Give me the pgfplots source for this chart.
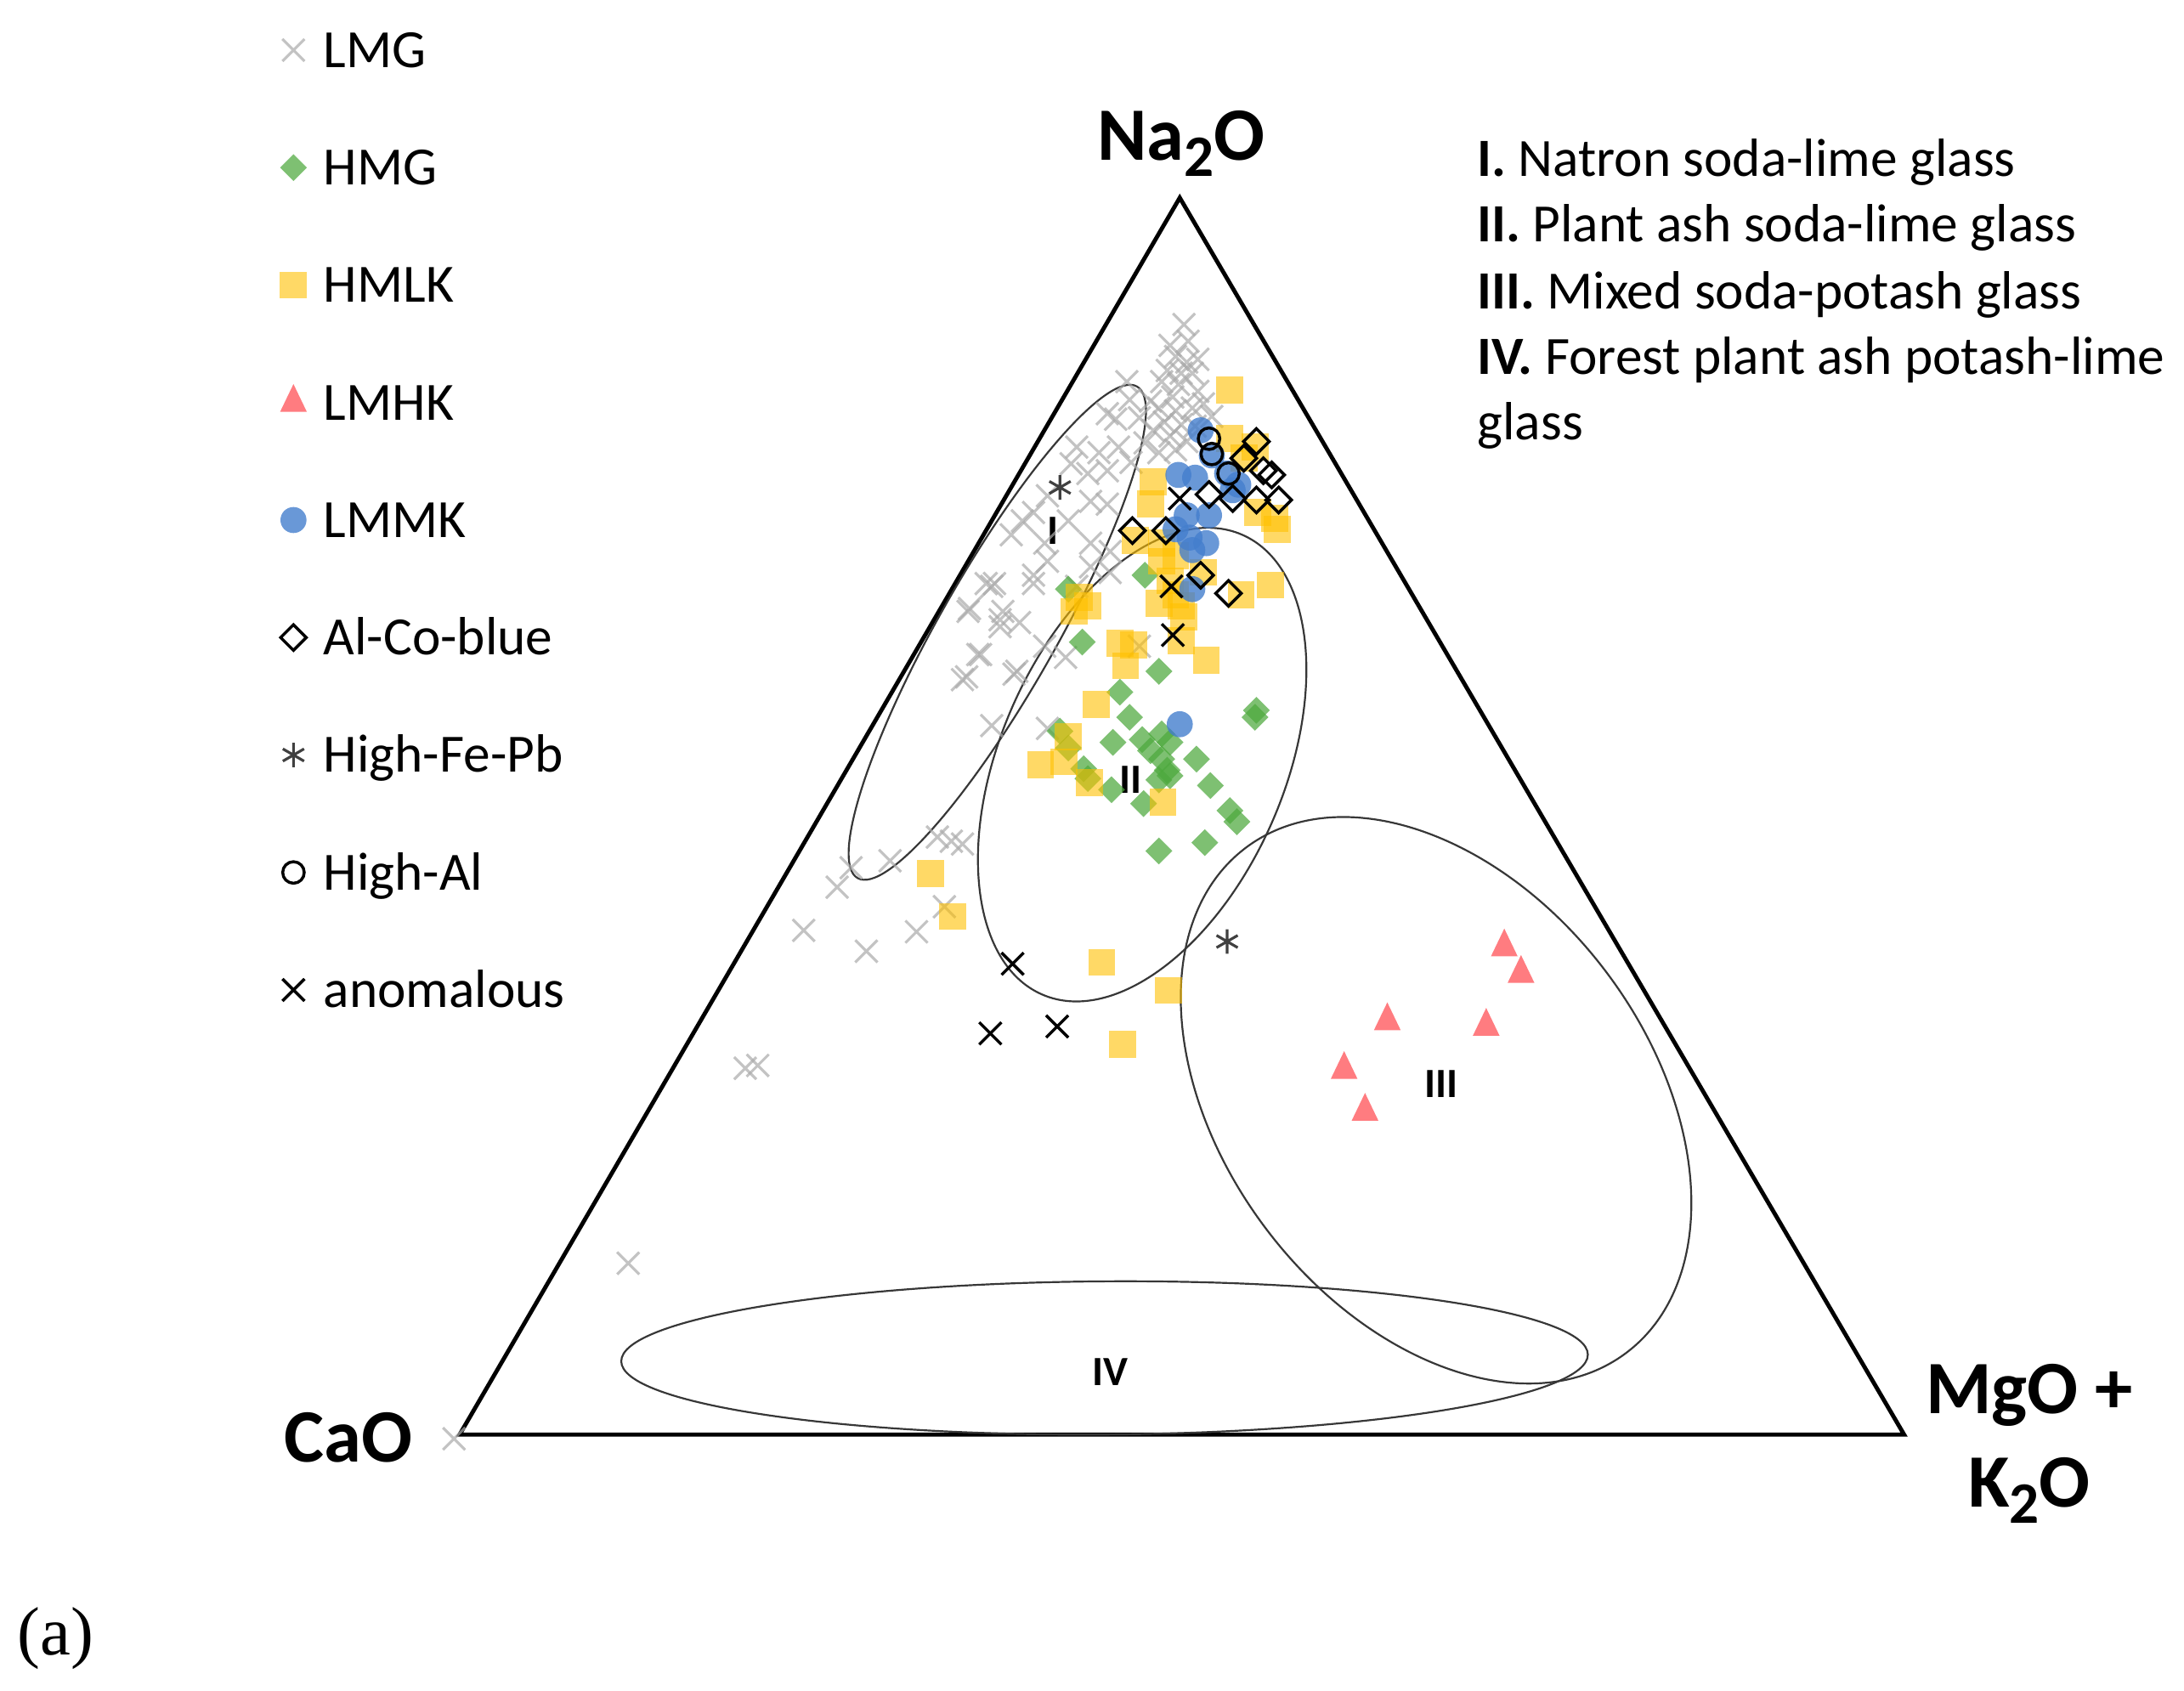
\documentclass[border=0pt]{standalone}
\usepackage{fontspec}
\setmainfont{Carlito}
\newfontfamily\seriffont{Liberation Serif}
\usepackage{pgfplots}
\pgfplotsset{compat=1.18}
\definecolor{lmg}{RGB}{170,170,170}
\definecolor{hmg}{RGB}{76,168,60}
\definecolor{hmlk}{RGB}{255,192,0}
\definecolor{lmhk}{RGB}{255,124,128}
\definecolor{lmmk}{RGB}{68,126,205}
\definecolor{ell}{RGB}{55,55,55}
\newcommand\sub[1]{\raisebox{-0.22em}{\fontsize{12}{12}\selectfont #1}}
\begin{document}
\begin{tikzpicture}
\begin{axis}[
  width=15.68cm, height=12.14cm, scale only axis,
  xmin=0, xmax=1568, ymin=0, ymax=1214, y dir=reverse,
  hide axis, clip=false,
  legend image code/.code={\draw[#1] plot coordinates {(0pt,0pt)};},
  legend cell align=left,
  legend style={draw=none, fill=none, inner sep=0pt, outer sep=0pt,
    at={(0.1282,1.0051)}, anchor=north west, row sep=0pt,
    font=\fontsize{11}{13}\selectfont,
    nodes={inner sep=0pt, text height=15.55pt, text depth=8.45pt},
    /tikz/every odd column/.append style={column sep=3.4pt}},
]
% triangle frame
\addplot[black, line width=0.85pt, line join=miter, mark=none, forget plot]
  coordinates {(847,142) (330,1030) (1367,1030)} -- cycle;

% LMG
\addplot[only marks, mark=x, mark size=3.2pt, mark options={draw=lmg, line width=0.55pt, draw opacity=0.7}]
coordinates {
(850,233) (853,245) (844,256) (852,260) (838,266) (848,268) (856,268) (834,274) (846,276) (842,285)
(860,281) (832,293) (844,295) (856,293) (870,299) (836,303) (848,305) (828,309) (840,313) (852,317)
(832,325) (844,323) (840,248) (860,258) (826,288) (818,300) (822,318) (812,332) (858,306) (864,290)
(809,274) (811,287) (795,297) (801,301) (803,321) (789,325) (773,321) (781,340) (769,333) (795,338)
(783,360) (795,362) (752,356) (742,368) (726,384) (734,374) (767,374) (783,390) (750,390) (797,396)
(714,419) (742,419) (708,419) (742,413) (752,403) (783,407) (797,411) (773,421)
(712,421) (696,437) (720,439) (718,450) (704,470) (728,484) (694,486) (712,521) (695,439) (718,445)
(732,447) (702,470) (730,482) (691,488) (750,464) (765,472) (752,523) (683,604) (691,606) (818,464)
(673,601) (639,618) (611,623) (601,637) (577,668) (622,683) (658,669) (678,651) (535,767) (544,765)
(451,907) (326,1033)
};
\addlegendentry{LMG}

% HMG
\addplot[only marks, mark=square*, mark size=1.94pt, mark options={rotate=45, draw opacity=0, fill=hmg, fill opacity=0.72}]
coordinates {
(767,423) (822,413) (777,461) (832,482) (804,497) (811,515) (901,515) (902,510) (761,525) (799,533)
(820,531) (834,527) (840,533) (826,539) (767,537) (778,552) (798,567) (834,545) (838,553) (840,557)
(832,560) (859,545) (869,564) (883,582) (888,590) (821,577) (832,611) (865,605) (781,559)
};
\addlegendentry{HMG}

% HMLK
\addplot[only marks, mark=square*, mark size=2.75pt, mark options={draw opacity=0, fill=hmlk, fill opacity=0.6}]
coordinates {
(883,280) (883,315) (901,321) (893,329) (828,346) (826,362) (903,368) (917,380) (915,372) (815,388)
(834,390) (844,399) (834,403) (864,411) (912,420) (840,417) (891,427) (844,427) (775,429) (771,439)
(781,435) (832,433) (848,435) (850,443) (804,462) (814,463) (808,478) (866,474) (848,460) (787,506)
(767,529) (747,549) (764,547) (782,562) (835,576) (668,627) (684,658) (791,691) (839,711) (806,750)
};
\addlegendentry{HMLK}

% LMHK
\addplot[only marks, mark=triangle*, mark size=3.15pt, mark options={draw opacity=0, fill=lmhk, yscale=1.2}]
coordinates {(1080,680) (1092,699) (996,733) (1067,737) (965,768) (980,798)};
\addlegendentry{LMHK}

% LMMK
\addplot[only marks, mark=*, mark size=2.66pt, mark options={draw opacity=0, fill=lmmk, fill opacity=0.8}]
coordinates {
(862,309) (870,327) (881,340) (846,341) (858,343) (889,348) (885,352) (852,370) (868,370) (844,380)
(854,386) (866,390) (856,395) (856,423) (847,520)
};
\addlegendentry{LMMK}

% Al-Co-blue
\addplot[only marks, mark=square, mark size=1.85pt, mark options={rotate=45, draw=black, line width=0.6pt, fill=none}]
coordinates {
(902,317) (907,338) (913,341) (893,329) (868,355) (885,358) (902,359) (918,359) (813,381) (837,381)
(862,413) (882,426)
};
\addlegendentry{Al-Co-blue}

% High-Fe-Pb
\addplot[only marks, mark=asterisk, mark size=2.5pt, mark options={draw=black!75, line width=0.55pt}]
coordinates {(761,350) (881,676)};
\addlegendentry{High-Fe-Pb}

% High-Al
\addplot[only marks, mark=o, mark size=2.2pt, mark options={draw=black, line width=0.6pt}]
coordinates {(868,315) (870,326) (882,340)};
\addlegendentry{High-Al}

% anomalous
\addplot[only marks, mark=x, mark size=3.2pt, mark options={draw=black, line width=0.6pt}]
coordinates {(847,358) (841,421) (842,456) (727,692) (711,742) (759,737)};
\addlegendentry{anomalous}

% ellipses
\draw[ell, line width=0.38pt, rotate around={60.4:(axis cs:716,454)}] (axis cs:716,454) ellipse [x radius=2.03cm, y radius=0.42cm];
\draw[ell, line width=0.38pt, rotate around={66.5:(axis cs:820,549)}] (axis cs:820,549) ellipse [x radius=1.80cm, y radius=1.02cm];
\draw[ell, line width=0.38pt, rotate around={-53:(axis cs:1031,790)}] (axis cs:1031,790) ellipse [x radius=2.27cm, y radius=1.53cm];
\draw[ell, line width=0.38pt, rotate around={0.4:(axis cs:793,975)}] (axis cs:793,975) ellipse [x radius=3.47cm, y radius=0.55cm];

% region labels
\node[font=\fontsize{8.5}{10}\selectfont\bfseries] at (axis cs:756,381) {I};
\node[font=\fontsize{8.5}{10}\selectfont\bfseries] at (axis cs:812,560) {II};
\node[font=\fontsize{8.5}{10}\selectfont\bfseries] at (axis cs:1035,778) {III};
\node[font=\fontsize{8.5}{10}\selectfont\bfseries] at (axis cs:797,985) {IV};

% vertex labels
\node[anchor=base, inner sep=0pt, font=\fontsize{15.4}{18}\selectfont\bfseries] at (axis cs:848,115) {Na\sub{2}O};
\node[anchor=base east, inner sep=0pt, font=\fontsize{15.4}{18}\selectfont\bfseries] at (axis cs:297,1050) {CaO};
\node[anchor=base, inner sep=0pt, font=\fontsize{15.4}{18}\selectfont\bfseries] at (axis cs:1457,1015) {MgO +};
\node[anchor=base, inner sep=0pt, font=\fontsize{15.4}{18}\selectfont\bfseries] at (axis cs:1457,1082) {K\sub{2}O};

% glass type descriptions
\node[anchor=base west, inner sep=0pt, font=\fontsize{11}{13}\selectfont] at (axis cs:1060,126.5) {\textbf{I.} Natron soda-lime glass};
\node[anchor=base west, inner sep=0pt, font=\fontsize{11}{13}\selectfont] at (axis cs:1060,173.5) {\textbf{II.} Plant ash soda-lime glass};
\node[anchor=base west, inner sep=0pt, font=\fontsize{11}{13}\selectfont] at (axis cs:1060,221.5) {\textbf{III.} Mixed soda-potash glass};
\node[anchor=base west, inner sep=0pt, font=\fontsize{11}{13}\selectfont] at (axis cs:1060,268.5) {\textbf{IV.} Forest plant ash potash-lime};
\node[anchor=base west, inner sep=0pt, font=\fontsize{11}{13}\selectfont] at (axis cs:1060,315.5) {glass};

% panel label
\node[anchor=base west, inner sep=0pt, font=\seriffont\fontsize{14}{16}\selectfont] at (axis cs:12,1188) {(a)};
\end{axis}
\pgfresetboundingbox
\useasboundingbox (current axis.south west) rectangle (current axis.north east);
\end{tikzpicture}
\end{document}
